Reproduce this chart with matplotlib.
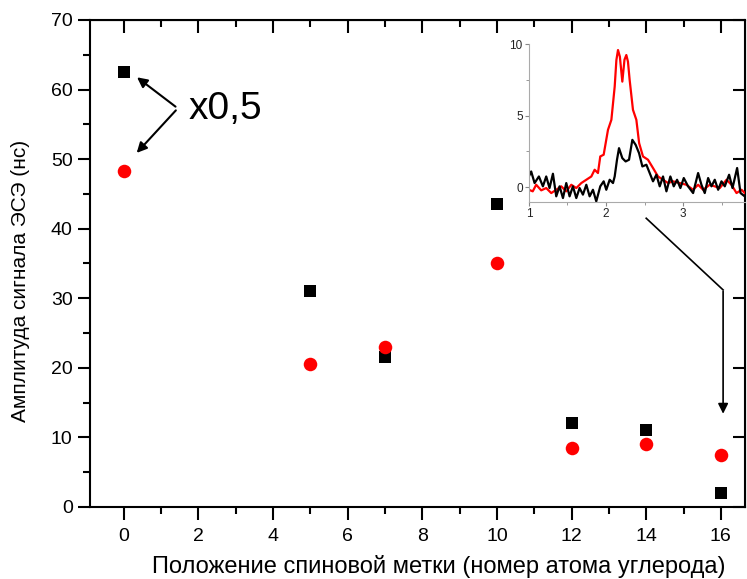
import matplotlib.pyplot as plt
from matplotlib.ticker import MultipleLocator

plt.rcParams['font.family'] = ['Liberation Sans', 'DejaVu Sans']

# основные данные: положение метки и амплитуда сигнала
pos = [0, 5, 7, 10, 12, 14, 16]
amp_black = [62.5, 31, 21.5, 43.5, 12, 11, 2]
amp_red = [48.3, 20.5, 23, 35, 8.5, 9, 7.5]

# вставка: спектры
red_x = [1.0, 1.05, 1.095, 1.16, 1.225, 1.29, 1.355, 1.42, 1.485, 1.55, 1.615,
         1.68, 1.745, 1.81, 1.853, 1.896, 1.926, 1.97, 2.026, 2.07, 2.113,
         2.135, 2.156, 2.18, 2.212, 2.24, 2.264, 2.285, 2.307, 2.35, 2.394,
         2.43, 2.48, 2.545, 2.61, 2.675, 2.74, 2.805, 2.87, 2.957, 3.043,
         3.13, 3.195, 3.26, 3.346, 3.41, 3.476, 3.563, 3.628, 3.693, 3.758, 3.8]
red_y = [-0.19, -0.3, 0.16, -0.23, -0.07, -0.42, -0.19, 0.05, -0.3, 0.16,
         -0.07, 0.28, 0.51, 0.74, 1.21, 0.98, 2.14, 2.26, 4.0, 4.7, 7.02,
         8.88, 9.58, 9.12, 7.37, 8.9, 9.23, 8.77, 7.49, 5.4, 4.7, 3.07, 2.14,
         1.91, 1.33, 0.74, 0.51, 0.28, 0.4, 0.28, 0.16, -0.19, 0.16, -0.19,
         0.16, 0.05, -0.07, 0.51, 0.16, -0.42, -0.19, -0.42]

black_x = [1.0, 1.03, 1.074, 1.13, 1.182, 1.225, 1.268, 1.312, 1.355, 1.398,
           1.442, 1.485, 1.528, 1.571, 1.615, 1.658, 1.701, 1.745, 1.788,
           1.831, 1.874, 1.926, 1.97, 2.004, 2.048, 2.091, 2.113, 2.143,
           2.169, 2.212, 2.255, 2.299, 2.342, 2.385, 2.429, 2.472, 2.524,
           2.567, 2.61, 2.654, 2.697, 2.74, 2.784, 2.835, 2.879, 2.922, 2.965,
           3.009, 3.065, 3.13, 3.195, 3.238, 3.281, 3.325, 3.368, 3.411,
           3.455, 3.498, 3.541, 3.597, 3.641, 3.701, 3.745, 3.8]
black_y = [0.74, 1.09, 0.28, 0.74, 0.05, 0.74, -0.07, 0.93, -0.65, 0.05,
           -0.77, 0.28, -0.65, 0.05, -0.77, -0.07, -0.53, 0.16, -0.65, -0.19,
           -1.0, 0.05, 0.4, -0.19, 0.51, 0.28, 0.74, 1.91, 2.72, 2.02, 1.79,
           1.91, 3.3, 2.95, 2.37, 1.44, 1.56, 0.98, 0.4, 0.86, 0.05, 0.74,
           -0.3, 0.74, 0.05, 0.51, -0.07, 0.63, 0.05, -0.42, 0.98, 0.16,
           -0.42, 0.63, 0.05, 0.51, -0.19, 0.4, 0.05, 0.86, -0.07, 1.33,
           -0.42, -0.65]

fig = plt.figure(figsize=(7.47, 5.79), dpi=100)
ax = fig.add_axes([0.1205, 0.1244, 0.877, 0.8411])

ax.scatter(pos, amp_black, marker='s', s=80, color='black', zorder=3,
           linewidths=0)
ax.scatter(pos, amp_red, marker='o', s=95, color='red', zorder=3,
           linewidths=0)

ax.set_xlim(-0.9, 16.65)
ax.set_ylim(0, 70)
ax.xaxis.set_major_locator(MultipleLocator(2))
ax.xaxis.set_minor_locator(MultipleLocator(1))
ax.yaxis.set_major_locator(MultipleLocator(10))
ax.yaxis.set_minor_locator(MultipleLocator(5))
ax.tick_params(which='both', direction='out', labelsize=14, width=1.5,
               top=False, right=False)
ax.tick_params(which='major', length=9)
ax.tick_params(which='minor', length=5)
ax.tick_params(axis='x', pad=6)
for s in ax.spines.values():
    s.set_linewidth(1.5)

# засечки сверху и справа внутрь
ax_t = ax.secondary_xaxis('top')
ax_t.xaxis.set_major_locator(MultipleLocator(2))
ax_t.xaxis.set_minor_locator(MultipleLocator(1))
ax_t.tick_params(which='both', direction='in', labeltop=False, width=1.5)
ax_t.tick_params(which='major', length=9)
ax_t.tick_params(which='minor', length=5)
ax_r = ax.secondary_yaxis('right')
ax_r.yaxis.set_major_locator(MultipleLocator(10))
ax_r.tick_params(which='both', direction='in', labelright=False, width=1.5,
                 length=9)
ax_r.yaxis.set_minor_locator(MultipleLocator(100))

ax.set_xlabel('Положение спиновой метки (номер атома углерода)', fontsize=17)
ax.xaxis.set_label_coords(0.532, -0.098)
ax.set_ylabel('Амплитуда сигнала ЭСЭ (нс)', fontsize=15)
ax.yaxis.set_label_coords(-0.092, 0.464)

ax.text(1.75, 57.2, 'x0,5', fontsize=28, va='center', ha='left')
arr = dict(arrowstyle='-|>', color='black', lw=1.5, mutation_scale=15)
ax.annotate('', xy=(0.3, 62.0), xytext=(1.45, 57.3), arrowprops=arr)
ax.annotate('', xy=(0.3, 50.6), xytext=(1.45, 57.3), arrowprops=arr)

# стрелка от вставки к точке 16
ax.plot([14.0, 16.06], [41.5, 31.2], color='black', lw=1.2)
ax.annotate('', xy=(16.06, 13.0), xytext=(16.06, 31.4),
            arrowprops=dict(arrowstyle='-|>', color='black', lw=1.2,
                            mutation_scale=15))

ins = fig.add_axes([0.708, 0.651, 0.289, 0.273])
ins.patch.set_alpha(0)
ins.plot(red_x, red_y, color='red', lw=1.6)
ins.plot(black_x, black_y, color='black', lw=1.6)
ins.set_xlim(1, 3.8)
ins.set_ylim(-1.05, 10)
ins.spines['top'].set_visible(False)
ins.spines['right'].set_visible(False)
ins.spines['left'].set_bounds(-1.05, 10)
for s in ('left', 'bottom'):
    ins.spines[s].set_color('#aaaaaa')
ins.xaxis.set_major_locator(MultipleLocator(1))
ins.xaxis.set_minor_locator(MultipleLocator(0.5))
ins.yaxis.set_major_locator(MultipleLocator(5))
ins.yaxis.set_minor_locator(MultipleLocator(2.5))
ins.tick_params(which='both', direction='out', labelsize=8.5, color='#888888',
                labelcolor='#222222', pad=1.5)
ins.tick_params(which='major', length=3)
ins.tick_params(which='minor', length=2)

fig.savefig('out.png', dpi=100)
